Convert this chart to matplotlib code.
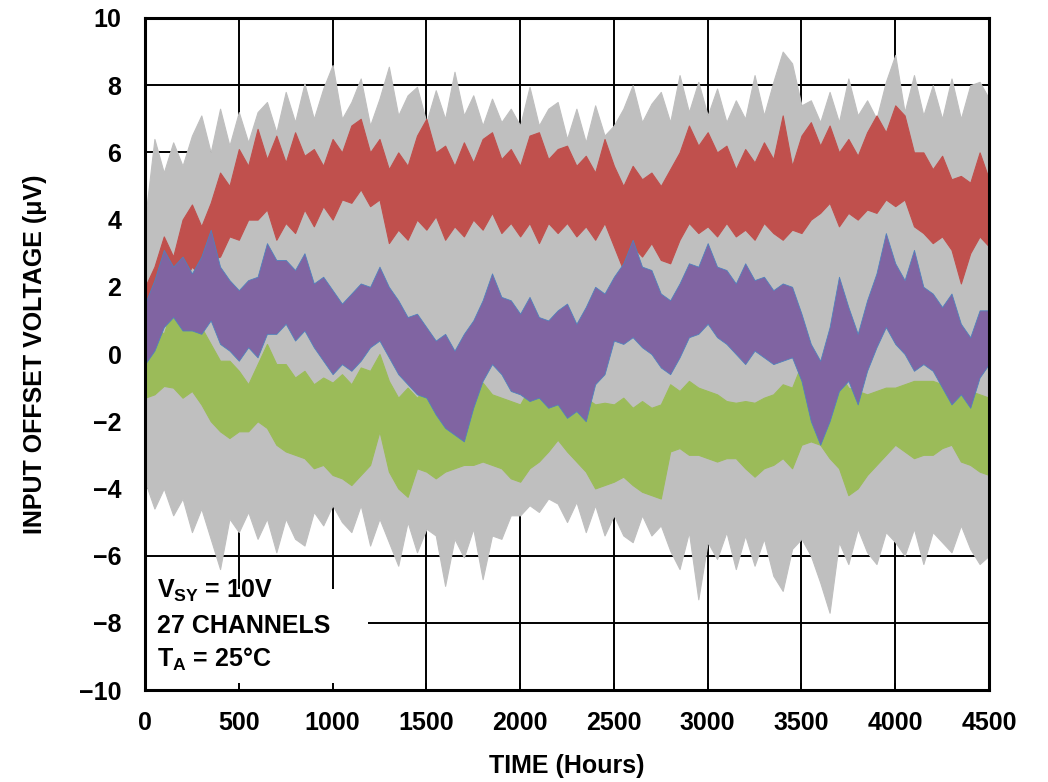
import numpy as np
import matplotlib
matplotlib.use("Agg")
import matplotlib.pyplot as plt
from matplotlib.patches import Rectangle

# sample times (hours), one reading every 50 h
hours = np.arange(0, 4501, 50)

# envelopes (upper / lower) of each noisy trace, in uV
red_hi = [2.0, 2.6, 3.5, 2.9, 4.0, 4.45, 3.8, 4.5, 5.4, 5.0,
          6.1, 5.6, 6.7, 5.8, 6.5, 5.7, 6.6, 5.9, 6.1, 5.6,
          6.4, 6.0, 6.8, 7.0, 6.0, 6.4, 5.5, 6.0, 5.6, 6.5,
          7.0, 6.0, 6.2, 5.6, 6.3, 5.7, 6.4, 6.6, 5.8, 6.1,
          5.6, 6.5, 6.6, 5.8, 6.1, 6.2, 5.6, 5.9, 5.4, 6.4,
          5.6, 5.0, 5.6, 5.2, 5.4, 5.0, 5.5, 6.0, 6.8, 6.2,
          6.6, 6.0, 6.2, 5.5, 6.1, 5.7, 6.3, 5.8, 7.1, 5.6,
          6.5, 6.9, 6.2, 6.8, 6.0, 6.4, 5.9, 6.6, 7.1, 6.6,
          7.4, 7.1, 6.0, 6.0, 5.5, 5.9, 5.2, 5.3, 5.1, 6.0,
          5.2]
red_lo = [0.8, 1.3, 2.0, 2.4, 2.1, 2.6, 2.3, 2.8, 2.9, 3.5,
          3.4, 4.0, 4.0, 4.3, 3.4, 3.9, 3.6, 4.3, 3.8, 4.4,
          4.0, 4.6, 4.5, 4.9, 4.4, 4.6, 3.3, 3.7, 3.4, 4.0,
          3.7, 4.1, 3.4, 3.8, 3.5, 4.0, 3.7, 4.2, 3.6, 3.9,
          3.5, 3.9, 3.3, 3.9, 3.6, 3.9, 3.5, 3.8, 3.4, 3.9,
          3.2, 2.5, 3.2, 2.9, 3.3, 2.8, 2.7, 3.4, 3.9, 3.6,
          3.8, 3.5, 3.9, 3.5, 3.7, 3.4, 3.9, 3.6, 3.4, 3.7,
          3.6, 4.0, 4.2, 4.5, 3.8, 4.2, 4.0, 4.3, 4.2, 4.6,
          4.4, 4.6, 3.8, 3.6, 3.3, 3.5, 3.1, 2.1, 3.0, 3.5,
          3.2]

purple_hi = [1.5, 2.2, 3.1, 2.6, 2.9, 2.4, 2.9, 3.7, 2.6, 2.2,
             1.9, 2.2, 2.3, 3.3, 2.8, 2.8, 2.5, 3.0, 2.1, 2.3,
             1.9, 1.5, 1.8, 2.1, 2.0, 2.6, 2.0, 1.6, 1.1, 1.2,
             0.8, 0.4, 0.6, 0.1, 0.6, 1.0, 1.6, 2.4, 1.7, 1.6,
             1.2, 1.7, 1.1, 1.0, 1.3, 1.5, 0.9, 1.4, 2.0, 1.8,
             2.3, 2.7, 3.4, 2.6, 2.5, 1.8, 1.6, 2.1, 2.7, 2.6,
             3.3, 2.6, 2.5, 2.1, 2.7, 2.2, 2.3, 1.9, 2.1, 2.0,
             1.2, 0.3, -0.2, 0.8, 2.3, 1.4, 0.6, 1.6, 2.4, 3.6,
             2.7, 2.2, 3.1, 2.0, 1.8, 1.4, 1.8, 0.9, 0.5, 1.3,
             1.3]
purple_lo = [-0.3, 0.1, 0.8, 1.1, 0.7, 0.7, 0.6, 1.0, 0.3, 0.1,
             -0.2, 0.2, -0.1, 0.6, 0.6, 0.9, 0.4, 0.7, 0.2, -0.2,
             -0.6, -0.3, -0.5, -0.2, 0.2, 0.4, -0.1, -0.6, -0.9, -1.2,
             -1.3, -1.8, -2.2, -2.4, -2.6, -1.6, -0.8, -0.3, -0.6, -1.1,
             -1.2, -1.4, -1.3, -1.6, -1.5, -1.9, -1.7, -2.0, -0.9, -0.6,
             0.4, 0.3, 0.5, 0.2, 0.0, -0.4, -0.6, -0.1, 0.5, 0.6,
             0.9, 0.5, 0.3, 0.0, -0.3, 0.1, -0.1, -0.3, -0.2, -0.1,
             -0.8, -2.0, -2.7, -2.0, -1.1, -0.8, -1.5, -0.5, 0.2, 0.8,
             0.3, 0.0, -0.5, -0.3, -0.5, -1.0, -1.5, -1.2, -1.6, -0.7,
             -0.3]

green_hi = [0.2, 0.85, 0.6, 1.5, 0.9, 1.4, 0.8, 0.3, -0.2, -0.2,
            -0.5, -0.9, -0.3, 0.3, -0.3, -0.3, -0.7, -0.5, -0.9, -0.7,
            -0.85, -0.6, -0.9, -0.4, -0.5, 0.0, -0.8, -1.3, -1.0, -1.3,
            -1.0, -0.75, -1.2, -1.3, -1.0, -0.9, -0.85, -1.2, -1.3, -1.4,
            -1.5, -1.0, -0.85, -0.7, -0.55, -0.8, -1.1, -1.3, -1.5, -1.45,
            -1.5, -1.3, -1.6, -1.4, -1.6, -1.5, -0.9, -1.1, -0.8, -1.0,
            -1.1, -1.2, -1.4, -1.45, -1.4, -1.45, -1.3, -1.2, -0.9, -1.0,
            -0.3, -0.6, -1.0, -0.7, -0.55, -1.0, -1.1, -1.2, -1.1, -1.0,
            -1.0, -0.9, -0.8, -0.8, -0.8, -0.9, -1.0, -1.1, -1.1, -1.2,
            -1.3]
green_lo = [-1.3, -1.2, -0.95, -1.0, -1.3, -1.1, -1.5, -2.0, -2.3, -2.5,
            -2.3, -2.3, -2.0, -2.2, -2.7, -2.9, -3.0, -3.1, -3.4, -3.3,
            -3.6, -3.7, -3.9, -3.6, -3.3, -2.3, -3.5, -4.0, -4.25, -3.4,
            -3.5, -3.7, -3.5, -3.4, -3.3, -3.3, -3.2, -3.3, -3.4, -3.7,
            -3.8, -3.4, -3.2, -2.9, -2.55, -2.9, -3.2, -3.5, -4.0, -3.9,
            -3.8, -3.65, -3.9, -4.1, -4.2, -4.3, -2.9, -2.8, -3.0, -3.0,
            -3.1, -3.2, -3.1, -3.1, -3.4, -3.65, -3.4, -3.3, -3.1, -3.4,
            -2.7, -2.6, -2.7, -3.1, -3.4, -4.2, -4.0, -3.6, -3.3, -3.0,
            -2.7, -2.9, -3.1, -3.0, -3.0, -2.8, -2.7, -3.2, -3.3, -3.5,
            -3.6]

# the other 24 channels, drawn as one grey spread
gray_hi = [4.0, 6.4, 5.4, 6.3, 5.6, 6.5, 7.1, 6.0, 7.3, 6.2,
           7.2, 6.3, 7.2, 7.5, 6.6, 7.8, 6.9, 8.05, 7.0, 7.9,
           8.6, 7.0, 7.5, 8.2, 6.8, 7.6, 8.55, 7.1, 7.7, 7.95,
           6.9, 7.85, 7.0, 8.4, 7.1, 7.7, 6.8, 7.6, 6.9, 7.3,
           6.8, 7.95, 6.8, 7.3, 7.5, 6.4, 7.3, 6.3, 7.4, 6.5,
           6.8, 7.3, 8.0, 6.9, 7.45, 7.8, 6.9, 8.3, 7.2, 8.1,
           7.1, 7.9, 6.9, 7.55, 7.0, 8.3, 7.1, 8.1, 9.0, 8.65,
           7.4, 7.55, 6.9, 7.8, 6.9, 8.2, 7.1, 7.55, 7.0, 8.1,
           8.9, 7.2, 8.3, 7.1, 8.0, 7.0, 8.2, 7.0, 8.0, 8.1,
           7.6]
gray_lo = [-3.8, -4.6, -4.0, -4.8, -4.3, -5.3, -4.6, -5.5, -6.4, -4.9,
           -5.3, -4.7, -5.5, -4.9, -5.9, -4.9, -5.5, -5.7, -4.7, -5.1,
           -4.5, -5.0, -5.3, -4.5, -5.7, -4.9, -5.6, -6.3, -5.0, -5.9,
           -5.2, -5.4, -6.9, -5.5, -6.05, -5.2, -6.7, -5.4, -5.5, -4.8,
           -4.8, -4.5, -4.7, -4.3, -4.45, -5.0, -4.4, -5.3, -4.5, -5.4,
           -4.8, -5.4, -5.6, -4.8, -5.4, -5.1, -5.85, -6.4, -5.3, -7.3,
           -5.6, -6.1, -5.3, -6.4, -5.4, -6.3, -5.5, -6.6, -7.05, -5.8,
           -5.5, -6.0, -6.8, -7.7, -5.6, -6.25, -5.2, -5.9, -6.25, -5.3,
           -5.6, -6.0, -5.2, -6.25, -5.3, -5.6, -5.9, -5.1, -5.8, -6.25,
           -6.0]

x_ticks = [0, 500, 1000, 1500, 2000, 2500, 3000, 3500, 4000, 4500]
y_ticks = [-10, -8, -6, -4, -2, 0, 2, 4, 6, 8, 10]

plt.rcParams['font.family'] = ['Liberation Sans', 'DejaVu Sans']
plt.rcParams['font.weight'] = 'bold'
plt.rcParams['axes.labelweight'] = 'bold'
plt.rcParams['mathtext.fontset'] = 'custom'
plt.rcParams['mathtext.rm'] = 'Liberation Sans:bold'
plt.rcParams['mathtext.it'] = 'Liberation Sans:bold'
plt.rcParams['mathtext.bf'] = 'Liberation Sans:bold'

fig = plt.figure(figsize=(10.48, 7.82), dpi=100)
ax = fig.add_axes([0.1384, 0.1176, 0.8053, 0.8594])

# grid, kept out of the note box in the lower left corner
ax.vlines(x_ticks[1:-1], -10, 10, colors='black', lw=1.4, zorder=0.5)
ax.hlines(y_ticks[1:-1], 0, 4500, colors='black', lw=1.4, zorder=0.5)
ax.add_patch(Rectangle((0, -10), 1190, 3.0, facecolor='white',
                       edgecolor='none', zorder=0.8))

ax.fill_between(hours, gray_lo, gray_hi, facecolor='#BFBFBF',
                edgecolor='#BFBFBF', lw=0.8, zorder=1)
ax.fill_between(hours, green_lo, green_hi, facecolor='#9BBB59',
                edgecolor='#9BBB59', lw=0.8, zorder=2)
ax.fill_between(hours, red_lo, red_hi, facecolor='#C0504D',
                edgecolor='#C0504D', lw=0.8, zorder=2.1)
ax.fill_between(hours, purple_lo, purple_hi, facecolor='#8064A2',
                edgecolor='#4F81BD', lw=0.6, zorder=2.2)

# note text
ax.text(65, -7.05, r'V$_{SY}$ = 10V', fontsize=18, va='center', zorder=5)
ax.text(65, -8.1, '27 CHANNELS', fontsize=18, va='center', zorder=5)
ax.text(65, -9.1, r'T$_{A}$ = 25°C', fontsize=18, va='center', zorder=5)

ax.set_xlim(0, 4500)
ax.set_ylim(-10, 10)
ax.set_xticks(x_ticks)
ax.set_yticks(y_ticks)
ax.tick_params(axis='x', direction='in', length=5, width=1.4,
               labelsize=18, pad=15)
ax.tick_params(axis='y', length=0, labelsize=18, pad=17)

for sp in ax.spines.values():
    sp.set_linewidth(2.2)
    sp.set_color('black')

ax.set_xlabel('TIME (Hours)', fontsize=18)
ax.set_ylabel('INPUT OFFSET VOLTAGE (μV)', fontsize=18)
ax.xaxis.set_label_coords(0.5, -0.095)
ax.yaxis.set_label_coords(-0.116, 0.5)

fig.savefig('out.png', dpi=100)
